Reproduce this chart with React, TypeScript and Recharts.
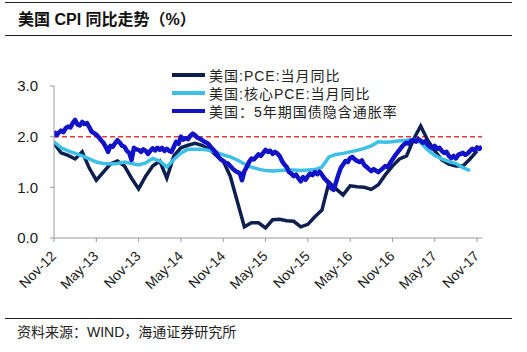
import { LineChart, Line, XAxis, YAxis, ReferenceLine, Legend } from "recharts";

const X_TICK_LABELS = [
  "Nov-12", "May-13", "Nov-13", "May-14", "Nov-14", "May-15",
  "Nov-15", "May-16", "Nov-16", "May-17", "Nov-17",
];
const Y_TICKS = [0, 1, 2, 3];

// 美国:PCE:当月同比 — monthly, Nov-12 onwards
const PCE = [
  1.87, 1.68, 1.63, 1.56, 1.70, 1.38, 1.14, 1.30, 1.46, 1.52,
  1.42, 1.18, 0.97, 1.22, 1.42, 1.52, 1.18, 1.62, 1.78, 1.83,
  1.87, 1.83, 1.76, 1.63, 1.52, 1.22, 0.72, 0.22, 0.30, 0.30,
  0.20, 0.36, 0.37, 0.34, 0.33, 0.22, 0.27, 0.42, 0.55, 1.10,
  0.97, 0.85, 1.03, 1.01, 1.00, 0.96, 1.05, 1.25, 1.42, 1.56,
  1.62, 1.95, 2.21, 1.93, 1.72, 1.54, 1.46, 1.42, 1.42, 1.56,
  1.72,
];

// 美国:核心PCE:当月同比 — monthly, Nov-12 onwards
const CORE_PCE = [
  1.90, 1.78, 1.72, 1.67, 1.62, 1.56, 1.50, 1.47, 1.46, 1.47,
  1.50, 1.47, 1.44, 1.48, 1.57, 1.52, 1.40, 1.55, 1.68, 1.75,
  1.75, 1.75, 1.73, 1.69, 1.64, 1.60, 1.54, 1.46, 1.40, 1.36,
  1.33, 1.32, 1.33, 1.34, 1.34, 1.33, 1.34, 1.35, 1.40, 1.60,
  1.65, 1.67, 1.70, 1.73, 1.77, 1.82, 1.90, 1.89, 1.90, 1.92,
  1.93, 1.95, 1.88, 1.74, 1.63, 1.56, 1.51, 1.47, 1.39, 1.33,
];

// 美国：5年期国债隐含通胀率 — three readings a month, Nov-12 onwards
const BREAKEVEN = [
  2.10, 2.03, 2.08, 2.12, 2.09, 2.17, 2.20, 2.18, 2.27, 2.33, 2.24, 2.22,
  2.29, 2.25, 2.27, 2.19, 2.10, 2.07, 2.04, 1.99, 1.93, 1.88, 1.80, 1.70,
  1.82, 1.80, 1.87, 1.93, 1.88, 1.82, 1.80, 1.72, 1.68, 1.54, 1.78, 1.75,
  1.74, 1.70, 1.75, 1.72, 1.66, 1.72, 1.77, 1.73, 1.78, 1.74, 1.78, 1.72,
  1.76, 1.72, 1.70, 1.80, 1.90, 1.86, 2.00, 1.94, 1.97, 1.95, 2.02, 2.06,
  2.03, 1.98, 1.96, 1.93, 1.90, 1.88, 1.84, 1.78, 1.73, 1.68, 1.60, 1.55,
  1.52, 1.48, 1.47, 1.42, 1.37, 1.33, 1.30, 1.28, 1.14, 1.32, 1.40, 1.50,
  1.57, 1.55, 1.60, 1.65, 1.62, 1.68, 1.74, 1.70, 1.72, 1.66, 1.70, 1.67,
  1.62, 1.52, 1.45, 1.40, 1.30, 1.27, 1.22, 1.25, 1.18, 1.12, 1.20, 1.15,
  1.22, 1.27, 1.24, 1.30, 1.26, 1.31, 1.25, 1.18, 1.13, 1.08, 0.98, 0.95,
  1.10, 1.25, 1.38, 1.45, 1.52, 1.50, 1.58, 1.60, 1.55, 1.52, 1.50, 1.53,
  1.44, 1.40, 1.36, 1.32, 1.36, 1.33, 1.30, 1.34, 1.38, 1.42, 1.40, 1.48,
  1.55, 1.62, 1.68, 1.74, 1.80, 1.85, 1.88, 1.86, 1.92, 1.93, 1.90, 1.95,
  1.92, 1.88, 1.91, 1.84, 1.80, 1.77, 1.82, 1.76, 1.78, 1.72, 1.68, 1.70,
  1.62, 1.58, 1.62, 1.57, 1.64, 1.66, 1.68, 1.64, 1.67, 1.72, 1.76, 1.73,
  1.79, 1.76, 1.80,
];

const INFLATION_TARGET = 2;

const COLORS = {
  pce: "#0d1f4e",
  core: "#3cc0e8",
  breakeven: "#1212c8",
  target: "#e03a3c",
};

const FONT = '"Liberation Sans", Arial, "Noto Sans CJK SC", sans-serif';

const pceData = PCE.map((v, i) => ({ t: i, v }));
const coreData = CORE_PCE.map((v, i) => ({ t: i, v }));
const breakevenData = BREAKEVEN.map((v, i) => ({ t: i / 3, v }));
const xTicks = X_TICK_LABELS.map((_, i) => i * 6);

function XTick({ x, y, payload }: any) {
  const label = X_TICK_LABELS[Math.round(payload.value / 6)];
  const ax = x + 3;
  const ay = y + 13;
  return (
    <text
      x={ax}
      y={ay}
      transform={`rotate(-45 ${ax} ${ay})`}
      textAnchor="end"
      fontSize={14}
      fontFamily={FONT}
      fill="#1a1a1a"
    >
      {label}
    </text>
  );
}

function LegendBox({ payload }: any) {
  return (
    <div>
      {(payload ?? []).map((p: any) => (
        <div key={p.value} style={{ display: "flex", alignItems: "center", height: 18 }}>
          <span style={{ display: "inline-block", width: 33, height: 4, background: p.color, marginRight: 4 }} />
          <span style={{ fontSize: 14, letterSpacing: 1, color: "#222", fontFamily: FONT, whiteSpace: "nowrap" }}>
            {p.value}
          </span>
        </div>
      ))}
    </div>
  );
}

const rule = (top: number) => (
  <div style={{ position: "absolute", left: 5, top, width: 507, borderTop: "1.5px solid #222" }} />
);

export default function App() {
  return (
    <div style={{ position: "absolute", left: 0, top: 0, width: 527, height: 352, background: "#fff", fontFamily: FONT }}>
      {rule(2)}
      <div style={{ position: "absolute", left: 18, top: 10, fontSize: 16, lineHeight: "20px", fontWeight: 700, color: "#111" }}>
        美国 CPI 同比走势（%）
      </div>
      {rule(35)}

      <div style={{ position: "absolute", left: 0, top: 0 }}>
        <LineChart width={527} height={352} margin={{ top: 86, right: 45, bottom: 64, left: 10 }}>
          <XAxis
            type="number"
            dataKey="t"
            domain={[0, 60.7]}
            allowDataOverflow
            ticks={xTicks}
            interval={0}
            tick={<XTick />}
            tickSize={4}
            height={50}
            stroke="#9a9a9a"
          />
          <YAxis
            type="number"
            domain={[0, 3]}
            ticks={Y_TICKS}
            tickFormatter={(v: number) => v.toFixed(1)}
            tick={{ fontSize: 15, fill: "#1a1a1a", fontFamily: FONT }}
            tickSize={4}
            tickMargin={12}
            width={44}
            stroke="#9a9a9a"
          />
          <ReferenceLine y={INFLATION_TARGET} stroke={COLORS.target} strokeWidth={1.5} strokeDasharray="5 3" />
          <Line
            data={pceData}
            dataKey="v"
            name="美国:PCE:当月同比"
            stroke={COLORS.pce}
            strokeWidth={3.5}
            dot={false}
            isAnimationActive={false}
          />
          <Line
            data={coreData}
            dataKey="v"
            name="美国:核心PCE:当月同比"
            stroke={COLORS.core}
            strokeWidth={3.5}
            dot={false}
            isAnimationActive={false}
          />
          <Line
            data={breakevenData}
            dataKey="v"
            name="美国：5年期国债隐含通胀率"
            stroke={COLORS.breakeven}
            strokeWidth={4.5}
            strokeLinejoin="round"
            dot={false}
            isAnimationActive={false}
          />
          <Legend
            layout="vertical"
            align="center"
            verticalAlign="middle"
            content={<LegendBox />}
            wrapperStyle={{ left: 172, top: 66, width: "auto" }}
          />
        </LineChart>
      </div>

      {rule(318)}
      <div style={{ position: "absolute", left: 17, top: 323, fontSize: 14, lineHeight: "18px", color: "#222" }}>
        资料来源：WIND，海通证券研究所
      </div>
    </div>
  );
}
